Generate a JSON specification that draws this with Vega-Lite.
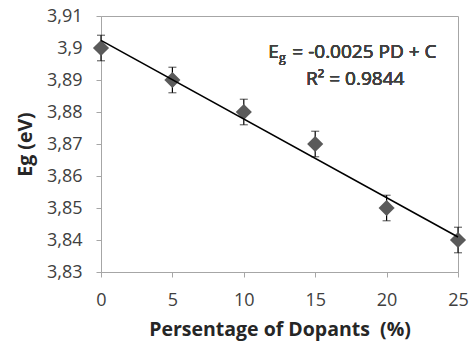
{
  "$schema": "https://vega.github.io/schema/vega-lite/v6.json",
  "width": 357,
  "height": 256,
  "autosize": {"type": "none"},
  "padding": {"left": 101, "top": 16, "right": 11, "bottom": 72},
  "background": "white",
  "config": {
    "locale": {"number": {"decimal": ",", "thousands": ".", "grouping": [3], "currency": ["", "€"]}},
    "view": {"stroke": "#a6a6a6", "strokeWidth": 1},
    "font": "Open Sans",
    "axis": {
      "grid": false,
      "domainColor": "#a6a6a6",
      "tickColor": "#a6a6a6",
      "tickSize": 5,
      "labelFont": "Open Sans",
      "labelFontSize": 18,
      "labelColor": "#404040",
      "labelOverlap": false,
      "titleFont": "Open Sans",
      "titleFontSize": 19.5,
      "titleFontWeight": "bold",
      "titleColor": "#262626"
    }
  },
  "data": {
    "values": [
      {"pd": 0, "eg": 3.90, "err": 0.004},
      {"pd": 5, "eg": 3.89, "err": 0.004},
      {"pd": 10, "eg": 3.88, "err": 0.004},
      {"pd": 15, "eg": 3.87, "err": 0.004},
      {"pd": 20, "eg": 3.85, "err": 0.004},
      {"pd": 25, "eg": 3.84, "err": 0.004}
    ]
  },
  "encoding": {
    "x": {
      "field": "pd", "type": "quantitative",
      "scale": {"domain": [0, 25], "nice": false, "zero": false},
      "title": "Persentage of Dopants\u00a0\u00a0(%)",
      "axis": {"values": [0, 5, 10, 15, 20, 25], "labelPadding": 14, "titlePadding": 11, "labelFlush": false}
    },
    "y": {
      "field": "eg", "type": "quantitative",
      "scale": {"domain": [3.83, 3.91], "nice": false, "zero": false},
      "title": "Eg (eV)",
      "axis": {"values": [3.83, 3.84, 3.85, 3.86, 3.87, 3.88, 3.89, 3.9, 3.91], "format": ".2~f", "labelPadding": 14, "titlePadding": 11, "labelFlush": false}
    }
  },
  "layer": [
    {
      "mark": {"type": "errorbar", "ticks": {"size": 8, "color": "black", "strokeWidth": 1.2}, "rule": {"color": "black", "strokeWidth": 1.2}},
      "encoding": {
        "x": {"field": "pd", "type": "quantitative", "title": "Persentage of Dopants\u00a0\u00a0(%)"},
        "y": {"field": "eg", "type": "quantitative", "title": "Eg (eV)"},
        "yError": {"field": "err"}
      }
    },
    {
      "mark": {"type": "point", "shape": "diamond", "filled": true, "color": "#5a5a5a", "size": 260, "opacity": 1}
    },
    {
      "transform": [{"regression": "eg", "on": "pd", "extent": [0, 25]}],
      "mark": {"type": "line", "color": "black", "strokeWidth": 1.6}
    },
    {
      "mark": {"type": "text", "text": "E", "align": "right", "baseline": "alphabetic", "font": "Open Sans", "fontSize": 19, "fontWeight": "normal", "color": "#404040"},
      "encoding": {"x": {"datum": 12.46}, "y": {"datum": 3.8969}}
    },
    {
      "mark": {"type": "text", "text": "g", "align": "left", "baseline": "alphabetic", "font": "Open Sans", "fontSize": 12.5, "fontWeight": "normal", "dy": 4, "color": "#404040"},
      "encoding": {"x": {"datum": 12.46}, "y": {"datum": 3.8969}}
    },
    {
      "mark": {"type": "text", "text": "= -0.0025 PD + C", "align": "left", "baseline": "alphabetic", "font": "Open Sans", "fontSize": 19, "fontWeight": "normal", "color": "#404040"},
      "encoding": {"x": {"datum": 13.4}, "y": {"datum": 3.8969}}
    },
    {
      "mark": {"type": "text", "text": "R² = 0.9844", "align": "center", "baseline": "alphabetic", "font": "Open Sans", "fontSize": 19, "fontWeight": "normal", "color": "#404040"},
      "encoding": {"x": {"datum": 17.8}, "y": {"datum": 3.8884}}
    }
  ]
}
